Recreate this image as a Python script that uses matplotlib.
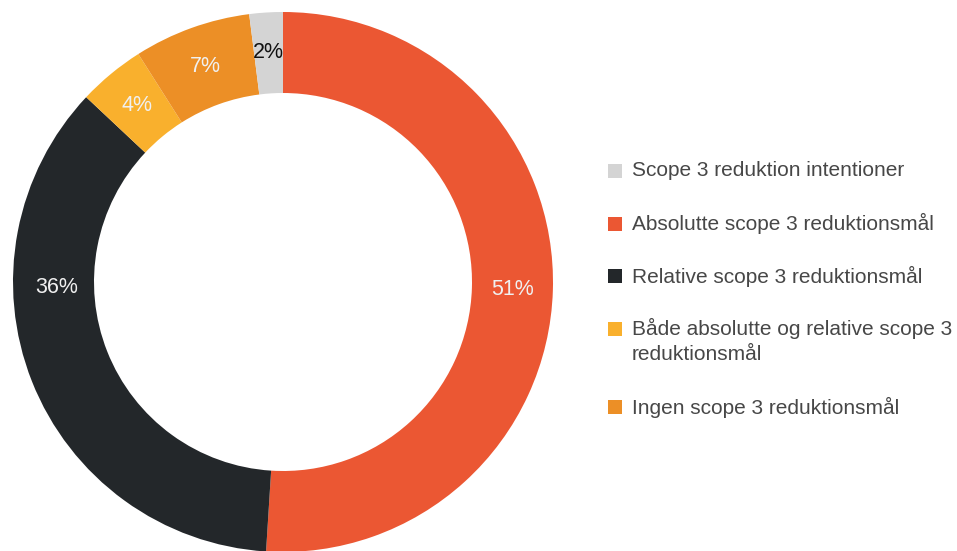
import numpy as np
import matplotlib.pyplot as plt
from matplotlib.patches import Rectangle

plt.rcParams["font.family"] = ["Liberation Sans", "DejaVu Sans"]

# data in drawing order (clockwise from top)
slice_labels = [
    "Absolutte scope 3 reduktionsmål",
    "Relative scope 3 reduktionsmål",
    "Både absolutte og relative scope 3\nreduktionsmål",
    "Ingen scope 3 reduktionsmål",
    "Scope 3 reduktion intentioner",
]
slice_values = [51, 36, 4, 7, 2]
slice_colors = ["#EB5733", "#23272A", "#F9B02D", "#EC8F26", "#D4D4D4"]
pct_colors = ["#F0F0F0", "#F0F0F0", "#F0F0F0", "#F0F0F0", "#111111"]

# legend order
legend_order = [4, 0, 1, 2, 3]

W, H = 957, 551
fig = plt.figure(figsize=(W / 100, H / 100), dpi=100)

cx, cy, R = 283, 282, 270
ax = fig.add_axes([(cx - R) / W, (H - cy - R) / H, 2 * R / W, 2 * R / H])
wedges, texts, autotexts = ax.pie(
    slice_values,
    colors=slice_colors,
    startangle=90,
    counterclock=False,
    radius=1.0,
    autopct=lambda p: f"{p:.0f}%",
    pctdistance=0.85,
    wedgeprops=dict(width=0.30, linewidth=0),
    textprops=dict(fontsize=15.5),
)
for t, c in zip(autotexts, pct_colors):
    t.set_color(c)
# the big dark slice has its label moved up to the visible left side
ang = np.deg2rad(181.5)
autotexts[1].set_position((0.84 * np.cos(ang), 0.84 * np.sin(ang)))
ax.set_xlim(-1, 1)
ax.set_ylim(-1, 1)
ax.set_aspect("equal")
ax.axis("off")

# manual legend
x_box, x_text = 608, 632
y = 171
for i in legend_order:
    fig.add_artist(Rectangle((x_box / W, (H - y - 7) / H), 14 / W, 14 / H,
                             transform=fig.transFigure, facecolor=slice_colors[i],
                             edgecolor="none"))
    for k, line in enumerate(slice_labels[i].split("\n")):
        fig.text(x_text / W, (H - y - 26 * k) / H, line, fontsize=15,
                 color="#474747", ha="left", va="center")
    y += 52.5 + 26 * slice_labels[i].count("\n")

fig.savefig("out.png", dpi=100)
